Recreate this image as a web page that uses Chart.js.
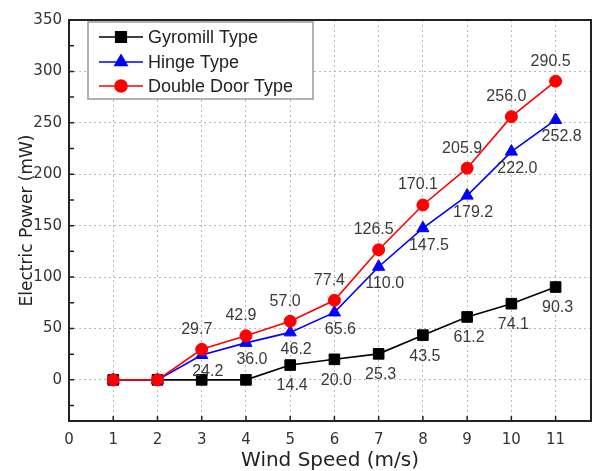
<!DOCTYPE html>
<html><head><meta charset="utf-8">
<script src="https://cdn.jsdelivr.net/npm/chart.js@4.4.1/dist/chart.umd.min.js"></script>
<style>html,body{margin:0;padding:0;background:#fff}</style>
</head><body>
<canvas id="c" width="593" height="471"></canvas>
<script>
const windSpeed = [1, 2, 3, 4, 5, 6, 7, 8, 9, 10, 11];
const gyromill = [0, 0, 0, 0, 14.4, 20.0, 25.3, 43.5, 61.2, 74.1, 90.3];
const hinge = [0, 0, 24.2, 36.0, 46.2, 65.6, 110.0, 147.5, 179.2, 222.0, 252.8];
const doubleDoor = [0, 0, 29.7, 42.9, 57.0, 77.4, 126.5, 170.1, 205.9, 256.0, 290.5];
const seriesNames = ['Gyromill Type', 'Hinge Type', 'Double Door Type'];
const xTickLabels = [0, 1, 2, 3, 4, 5, 6, 7, 8, 9, 10, 11];
const yTickLabels = [0, 50, 100, 150, 200, 250, 300, 350];

const AXIS_FONT = '"DejaVu Sans", sans-serif';
const LABEL_FONT = '"Liberation Sans", Arial, sans-serif';

function pts(arr) { return windSpeed.map((x, i) => ({x: x, y: arr[i]})); }

const styles = [
  {color: '#000000', style: 'rect', radius: 7.5, labelDx: 2, labelDy: 21, order: 3},
  {color: '#0000ff', style: 'triangle', radius: 7, labelDx: 6, labelDy: 17, order: 2},
  {color: '#ff0000', style: 'circle', radius: 6, labelDx: -5, labelDy: -20, order: 1}
];
const seriesData = [gyromill, hinge, doubleDoor];

const datasets = seriesData.map((arr, i) => ({
  label: seriesNames[i],
  data: pts(arr),
  borderColor: styles[i].color,
  backgroundColor: styles[i].color,
  pointBackgroundColor: styles[i].color,
  pointBorderColor: styles[i].color,
  pointStyle: styles[i].style,
  pointRadius: styles[i].radius,
  pointBorderWidth: 1,
  borderWidth: 1.6,
  order: styles[i].order,
  tension: 0
}));

const framePlugin = {
  id: 'frame',
  beforeDatasetsDraw(chart) {
    const {ctx, chartArea: a, scales} = chart;
    ctx.save();
    ctx.strokeStyle = '#222';
    ctx.lineWidth = 1.5;
    ctx.beginPath();
    for (let v = -25; v <= 350; v += 25) {
      const y = scales.y.getPixelForValue(v);
      ctx.moveTo(a.left, y); ctx.lineTo(a.left + 5, y);
    }
    xTickLabels.forEach(v => {
      const x = scales.x.getPixelForValue(v);
      ctx.moveTo(x, a.bottom); ctx.lineTo(x, a.bottom - 5);
    });
    ctx.stroke();
    ctx.lineWidth = 2;
    ctx.strokeRect(a.left, a.top, a.right - a.left, a.bottom - a.top);
    ctx.restore();
  }
};

const labelPlugin = {
  id: 'dataLabels',
  afterDatasetsDraw(chart) {
    const ctx = chart.ctx;
    ctx.save();
    ctx.font = '16px ' + LABEL_FONT;
    ctx.fillStyle = '#3a3a3a';
    ctx.textAlign = 'center';
    ctx.textBaseline = 'middle';
    seriesData.forEach((arr, i) => {
      const meta = chart.getDatasetMeta(i);
      meta.data.forEach((el, j) => {
        const v = arr[j];
        if (!v) return;
        ctx.fillText(v.toFixed(1), el.x + styles[i].labelDx, el.y + styles[i].labelDy);
      });
    });
    ctx.restore();
  }
};

const legendPlugin = {
  id: 'boxLegend',
  afterDraw(chart) {
    const ctx = chart.ctx;
    const bx = 88, by = 22, bw = 225, bh = 77;
    ctx.save();
    ctx.fillStyle = '#fff';
    ctx.fillRect(bx, by, bw, bh);
    ctx.strokeStyle = '#999';
    ctx.lineWidth = 1.5;
    ctx.strokeRect(bx, by, bw, bh);
    const rows = [37, 62, 86];
    seriesNames.forEach((name, i) => {
      const y = rows[i];
      ctx.strokeStyle = styles[i].color;
      ctx.lineWidth = 1.6;
      ctx.beginPath(); ctx.moveTo(99, y); ctx.lineTo(143, y); ctx.stroke();
      ctx.fillStyle = styles[i].color;
      Chart.helpers.drawPoint(ctx, {pointStyle: styles[i].style, radius: styles[i].radius, borderWidth: 1}, 121, y);
      ctx.fill();
      ctx.fillStyle = '#222';
      ctx.font = '18px ' + LABEL_FONT;
      ctx.textAlign = 'left';
      ctx.textBaseline = 'middle';
      ctx.fillText(name, 148, y + 1);
    });
    ctx.restore();
  }
};

new Chart(document.getElementById('c'), {
  type: 'line',
  data: {datasets: datasets},
  options: {
    responsive: false,
    animation: false,
    devicePixelRatio: 1,
    layout: {autoPadding: false, padding: {top: 20, right: 2, left: 0, bottom: 0}},
    plugins: {legend: {display: false}, tooltip: {enabled: false}},
    scales: {
      x: {
        type: 'linear',
        min: 0, max: 11.8,
        afterFit(s) { s.height = 50; },
        afterBuildTicks(s) { s.ticks = xTickLabels.map(v => ({value: v})); },
        ticks: {
          color: '#333', padding: 10,
          font: {family: AXIS_FONT, size: 15},
          callback: v => String(v)
        },
        grid: {
          drawTicks: false,
          color: ctx => (ctx.tick && ctx.tick.value > 0) ? '#b8b8b8' : 'rgba(0,0,0,0)',
          lineWidth: 1
        },
        border: {display: false, dash: [2, 3]},
        title: {
          display: true, text: 'Wind Speed (m/s)', color: '#222',
          font: {family: AXIS_FONT, size: 20, lineHeight: 1.0},
          padding: {top: 0, bottom: 0}
        }
      },
      y: {
        type: 'linear',
        min: -40, max: 350,
        afterFit(s) { s.width = 69; },
        afterBuildTicks(s) { s.ticks = yTickLabels.map(v => ({value: v})); },
        ticks: {
          color: '#333', padding: 7,
          font: {family: AXIS_FONT, size: 15},
          callback: v => String(v)
        },
        grid: {
          drawTicks: false,
          color: ctx => (ctx.tick && ctx.tick.value < 350) ? '#b8b8b8' : 'rgba(0,0,0,0)',
          lineWidth: 1
        },
        border: {display: false, dash: [2, 3]},
        title: {
          display: true, text: 'Electric Power (mW)', color: '#222',
          font: {family: AXIS_FONT, size: 17, lineHeight: 1.2},
          padding: {top: 17, bottom: 0}
        }
      }
    }
  },
  plugins: [framePlugin, labelPlugin, legendPlugin]
});
</script>
</body></html>
